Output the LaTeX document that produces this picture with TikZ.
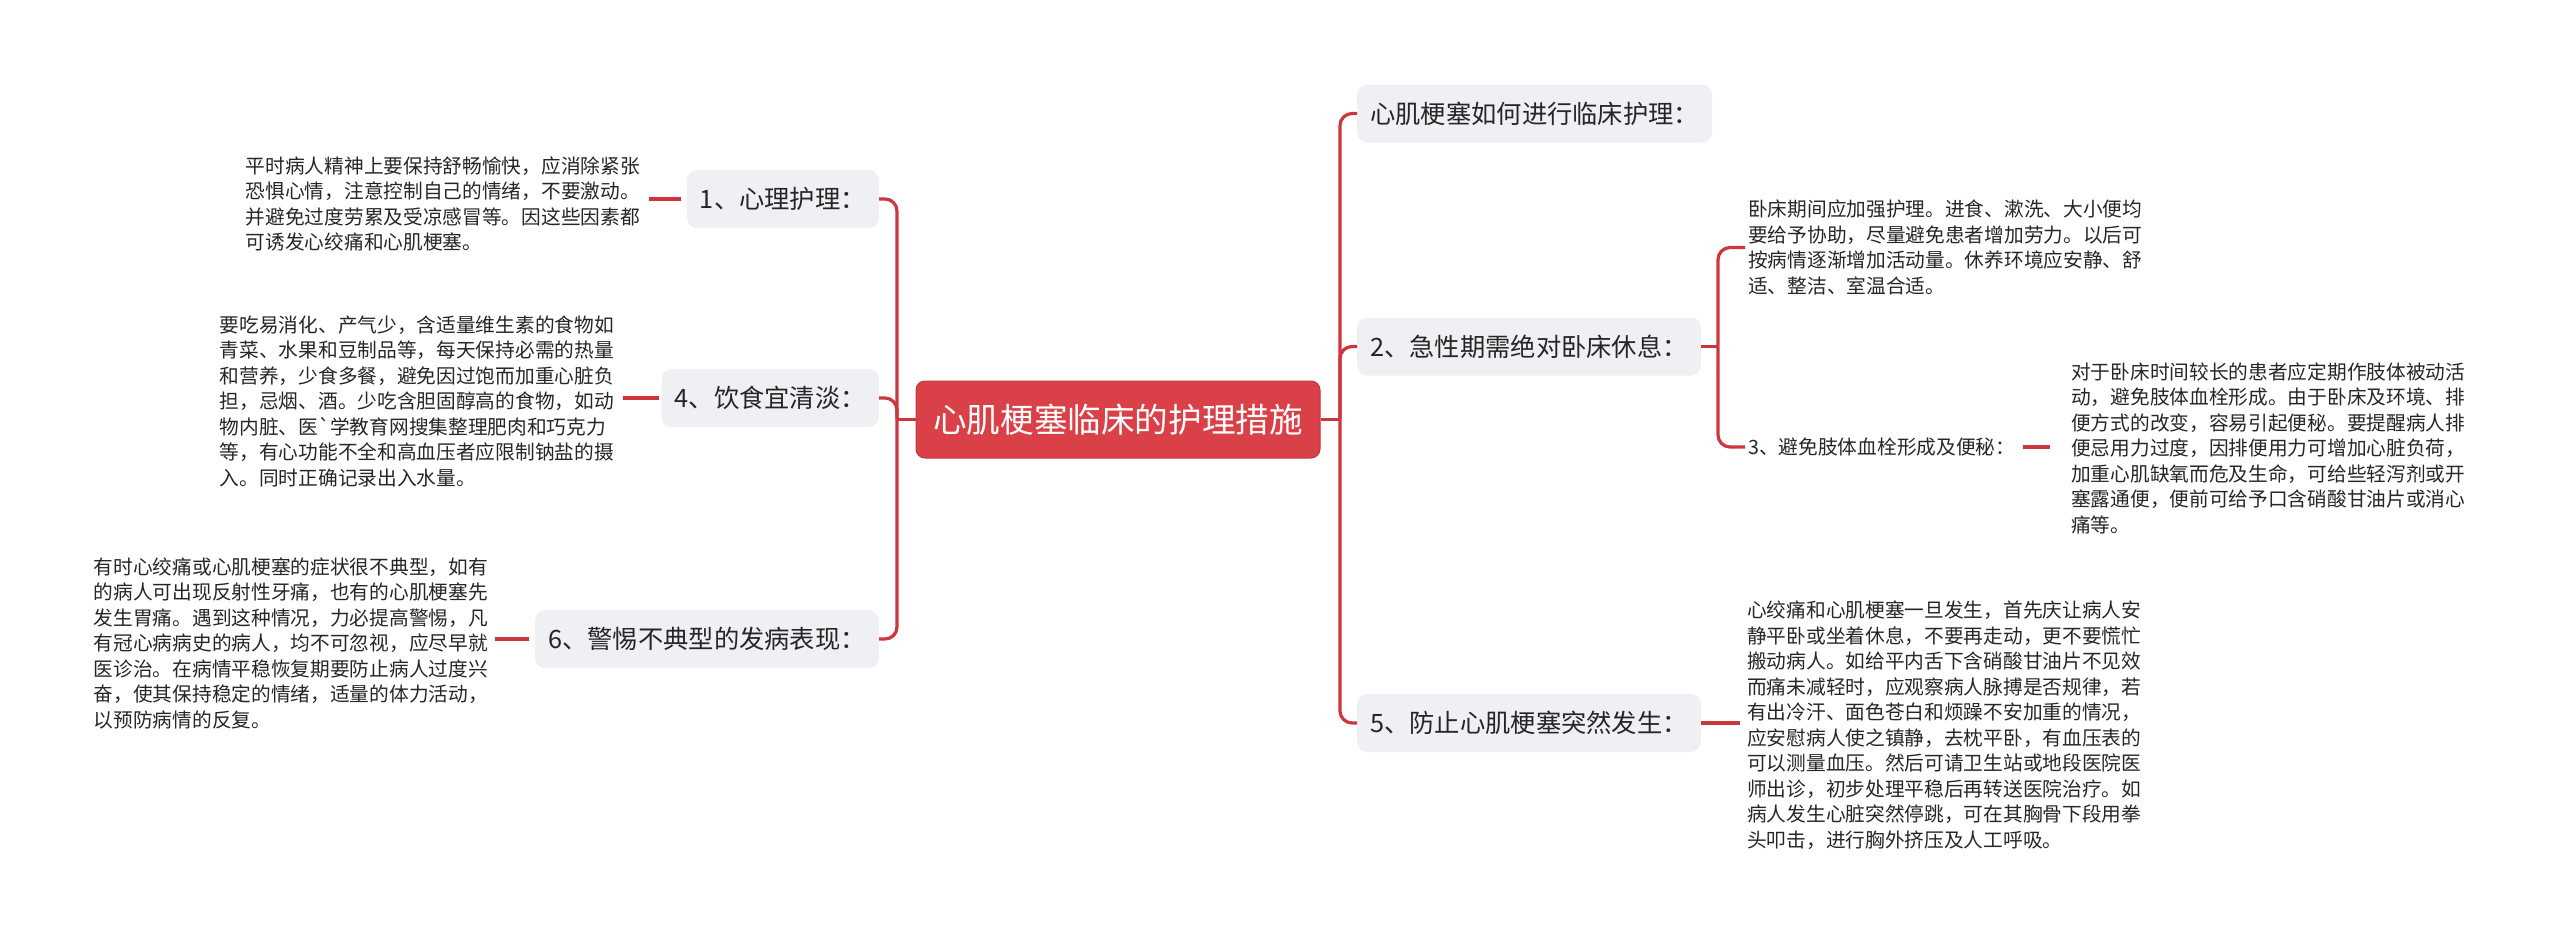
\documentclass[tikz,border=0pt]{standalone}
\usepackage{fontspec}
\usepackage{tikz}
\usetikzlibrary{positioning, calc}
\newfontfamily\cjkfont{Noto Sans CJK SC}
\definecolor{linkred}{HTML}{CC363D}
\definecolor{rootred}{HTML}{DA4048}
\definecolor{topicgray}{HTML}{EEF0F3}
\definecolor{inkgray}{HTML}{262626}

\begin{document}
\begin{tikzpicture}[
  x=1pt, y=-1pt,
  font=\cjkfont, text=inkgray,
  rootbox/.style={fill=rootred, draw=rootred!88!black, line width=1pt,
                  rounded corners=9pt, minimum width=404pt, minimum height=77pt,
                  inner sep=0pt, text=white,
                  font=\cjkfont\fontsize{33.6}{40}\selectfont},
  topic/.style={fill=topicgray, rounded corners=10pt, minimum height=58pt,
                inner xsep=13pt, inner ysep=0pt,
                font=\cjkfont\fontsize{25.3}{30}\selectfont},
  note/.style={align=left, inner sep=3pt,
               font=\cjkfont\fontsize{19.7}{25.5}\selectfont},
  edge/.style={draw=linkred, line width=3.2pt, rounded corners=12pt},
]
\path[use as bounding box] (0,0) rectangle (2560,945);

% centre topic and the two spines
\node[rootbox] (root) at (1118,419.5) {心肌梗塞临床的护理措施};
\coordinate (spineL) at (897,419.5);
\coordinate (spineR) at (1340,419.5);

% left branches
\node[topic, anchor=east] (L1) at (879,199)   {1、心理护理：};
\node[topic, anchor=east] (L4) at (879,398)   {4、饮食宜清淡：};
\node[topic, anchor=east] (L6) at (879,639)   {6、警惕不典型的发病表现：};

% right branches
\node[topic, anchor=west] (R0) at (1357,113.5) {心肌梗塞如何进行临床护理：};
\node[topic, anchor=west] (R2) at (1357,346.5) {2、急性期需绝对卧床休息：};
\node[topic, anchor=west] (R5) at (1357,723)   {5、防止心肌梗塞突然发生：};

% notes
\node[note, anchor=east] (T1) at (643,204) {平时病人精神上要保持舒畅愉快，应消除紧张\\
恐惧心情，注意控制自己的情绪，不要激动。\\
并避免过度劳累及受凉感冒等。因这些因素都\\
可诱发心绞痛和心肌梗塞。};
\node[note, anchor=east] (T4) at (617,401) {要吃易消化、产气少，含适量维生素的食物如\\
青菜、水果和豆制品等，每天保持必需的热量\\
和营养，少食多餐，避免因过饱而加重心脏负\\
担，忌烟、酒。少吃含胆固醇高的食物，如动\\
物内脏、医`学教育网搜集整理肥肉和巧克力\\
等，有心功能不全和高血压者应限制钠盐的摄\\
入。同时正确记录出入水量。};
\node[note, anchor=east] (T6) at (491,643) {有时心绞痛或心肌梗塞的症状很不典型，如有\\
的病人可出现反射性牙痛，也有的心肌梗塞先\\
发生胃痛。遇到这种情况，力必提高警惕，凡\\
有冠心病病史的病人，均不可忽视，应尽早就\\
医诊治。在病情平稳恢复期要防止病人过度兴\\
奋，使其保持稳定的情绪，适量的体力活动，\\
以预防病情的反复。};
\node[note, anchor=west] (T2) at (1745,247.5) {卧床期间应加强护理。进食、漱洗、大小便均\\
要给予协助，尽量避免患者增加劳力。以后可\\
按病情逐渐增加活动量。休养环境应安静、舒\\
适、整洁、室温合适。};
\node[note, anchor=west] (S3) at (1745,447) {3、避免肢体血栓形成及便秘：};
\node[note, anchor=west] (T3) at (2068,448) {对于卧床时间较长的患者应定期作肢体被动活\\
动，避免肢体血栓形成。由于卧床及环境、排\\
便方式的改变，容易引起便秘。要提醒病人排\\
便忌用力过度，因排便用力可增加心脏负荷，\\
加重心肌缺氧而危及生命，可给些轻泻剂或开\\
塞露通便，便前可给予口含硝酸甘油片或消心\\
痛等。};
\node[note, anchor=west] (T5) at (1744,725) {心绞痛和心肌梗塞一旦发生，首先庆让病人安\\
静平卧或坐着休息，不要再走动，更不要慌忙\\
搬动病人。如给平内舌下含硝酸甘油片不见效\\
而痛未减轻时，应观察病人脉搏是否规律，若\\
有出冷汗、面色苍白和烦躁不安加重的情况，\\
应安慰病人使之镇静，去枕平卧，有血压表的\\
可以测量血压。然后可请卫生站或地段医院医\\
师出诊，初步处理平稳后再转送医院治疗。如\\
病人发生心脏突然停跳，可在其胸骨下段用拳\\
头叩击，进行胸外挤压及人工呼吸。};
\coordinate (hubR2) at ($(R2.east)+(17,0)$);

% connectors
\draw[edge] (root.west) -- (spineL);
\draw[edge] (spineL) |- (L1.east);
\draw[edge] (spineL) |- (L4.east);
\draw[edge] (spineL) |- (L6.east);
\draw[edge] (root.east) -- (spineR);
\draw[edge] (spineR) |- (R0.west);
\draw[edge] (spineR) |- (R2.west);
\draw[edge] (spineR) |- (R5.west);
\draw[edge, shorten <=6pt, shorten >=6pt] (L1.west) -- (L1.west -| T1.east);
\draw[edge, shorten <=2pt, shorten >=6pt] (L4.west) -- (L4.west -| T4.east);
\draw[edge, shorten <=6pt, shorten >=4pt] (L6.west) -- (L6.west -| T6.east);
\draw[edge] (R2.east) -- (hubR2);
\draw[edge] (hubR2) |- (T2.west);
\draw[edge] (hubR2) |- (S3.west);
\draw[edge, shorten <=5pt, shorten >=18pt] (S3.east) -- (S3.east -| T3.west);
\draw[edge, shorten >=4pt] (R5.east) -- (R5.east -| T5.west);
\end{tikzpicture}
\end{document}
